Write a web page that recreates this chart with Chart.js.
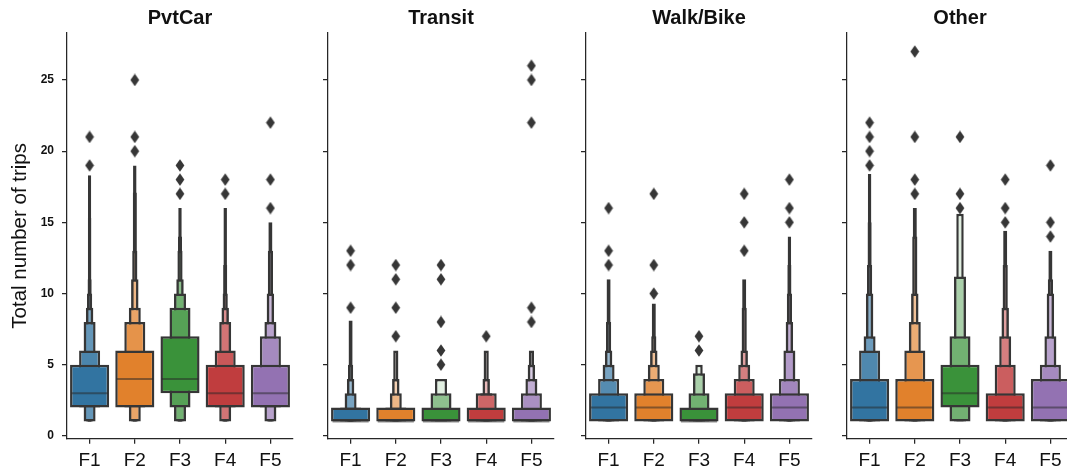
<!DOCTYPE html>
<html>
<head>
<meta charset="utf-8">
<script src="https://cdn.jsdelivr.net/npm/chart.js@4.4.1/dist/chart.umd.min.js"></script>
<style>
  html, body { margin: 0; padding: 0; background: #fff; overflow: hidden; }
  #wrap { position: relative; width: 1067px; height: 472px; overflow: hidden; }
  canvas { position: absolute; top: 0; }
</style>
</head>
<body>
<div id="wrap"></div>
<script>
// Groups on the x axis and facet titles
const categories = ['F1', 'F2', 'F3', 'F4', 'F5'];
const panelTitles = ['PvtCar', 'Transit', 'Walk/Bike', 'Other'];
const yTicks = [0, 5, 10, 15, 20, 25];
const groupColors = ['#3274a1', '#e1812c', '#3a923a', '#c03d3e', '#9372b2'];

// Letter-value boxes per group, widest (IQR) first, each [low, high]
const pvtCarBoxes = [
    [[2, 5], [2, 6], [1, 8], [1, 9], [1, 10], [1, 11], [1, 15.3], [1, 18.3]],
    [[2, 6], [2, 8], [1, 9], [1, 11], [1, 13], [1, 17.1], [1, 19]],
    [[3, 7], [2, 9], [1, 10], [1, 11], [1, 13], [1, 14], [1, 16]],
    [[2, 5], [2, 6], [1, 8], [1, 9], [1, 10], [1, 12], [1, 16]],
    [[2, 5], [2, 7], [1, 8], [1, 10], [1, 13], [1, 15]]
];
const pvtCarMedians = [3, 4, 4, 3, 3];
const pvtCarOutliers = [[19, 21], [20, 21, 25], [17, 18, 19], [17, 18], [16, 18, 22]];

const transitBoxes = [
    [[1, 2], [1, 2], [1, 3], [1, 4], [1, 5], [1, 8.1]],
    [[1, 2], [1, 2], [1, 3], [1, 4], [1, 6]],
    [[1, 2], [1, 3], [1, 4]],
    [[1, 2], [1, 3], [1, 3], [1, 4], [1, 6]],
    [[1, 2], [1, 3], [1, 4], [1, 5], [1, 6]]
];
const transitMedians = [1, 1, 1, 1, 1];
const transitOutliers = [[9, 12, 13], [7, 9, 11, 12], [5, 6, 8, 11, 12], [7], [8, 9, 22, 25, 26]];

const walkBikeBoxes = [
    [[1, 3], [1, 4], [1, 5], [1, 6], [1, 8], [1, 11]],
    [[1, 3], [1, 4], [1, 5], [1, 6], [1, 7], [1, 9.3]],
    [[1, 2], [1, 3], [1, 4.4], [1, 5]],
    [[1, 3], [1, 4], [1, 5], [1, 6], [1, 9], [1, 11]],
    [[1, 3], [1, 4], [1, 6], [1, 8], [1, 10], [1, 12], [1, 14]]
];
const walkBikeMedians = [2, 2, 1, 2, 2];
const walkBikeOutliers = [[12, 13, 16], [10, 12, 17], [6, 7], [13, 15, 17], [15, 16, 18]];

const otherBoxes = [
    [[1, 4], [1, 6], [1, 7], [1, 10], [1, 12], [1, 15], [1, 18.4]],
    [[1, 4], [1, 6], [1, 8], [1, 10], [1, 14], [1, 16]],
    [[2, 5], [1, 7], [1, 11.2], [1, 15.6]],
    [[1, 3], [1, 5], [1, 7], [1, 9], [1, 12], [1, 14.4]],
    [[1, 4], [1, 5], [1, 7], [1, 10], [1, 11], [1, 13]]
];
const otherMedians = [2, 2, 3, 2, 2];
const otherOutliers = [[19, 20, 21, 22], [17, 18, 21, 27], [16, 17, 21], [15, 16, 18], [14, 15, 19]];

const FONT = "'Liberation Sans', Arial, sans-serif";
const TEXT = '#111111';
const EDGE = '#363636';

// lighten a hex colour towards white
function mix(hex, t) {
    const n = parseInt(hex.slice(1), 16);
    const r = n >> 16, g = (n >> 8) & 255, b = n & 255;
    const f = c => Math.round(c + (255 - c) * t);
    return `rgb(${f(r)}, ${f(g)}, ${f(b)})`;
}

// thin diamond marker for outliers
function diamond() {
    const c = document.createElement('canvas');
    c.width = 10;
    c.height = 13;
    const g = c.getContext('2d');
    g.fillStyle = EDGE;
    g.beginPath();
    g.moveTo(5, 0.3);
    g.lineTo(9.4, 6.5);
    g.lineTo(5, 12.7);
    g.lineTo(0.6, 6.5);
    g.closePath();
    g.fill();
    return c;
}
const marker = diamond();

// median line across the widest box
const medianLines = {
    id: 'medianLines',
    afterDatasetsDraw(chart, args, opts) {
        const { ctx, scales: { x, y } } = chart;
        const half = (x.getPixelForValue(1) - x.getPixelForValue(0)) * 0.4;
        ctx.save();
        ctx.strokeStyle = 'rgba(38, 38, 38, 0.5)';
        ctx.lineWidth = 2;
        opts.values.forEach((m, i) => {
            const px = x.getPixelForValue(i);
            const py = y.getPixelForValue(m);
            ctx.beginPath();
            ctx.moveTo(px - half, py);
            ctx.lineTo(px + half, py);
            ctx.stroke();
        });
        ctx.restore();
    }
};

function makePanel(idx, boxes, medians, outliers) {
    const first = idx === 0;
    const plotLeft = [67, 327.7, 586, 846.7][idx];
    const axisW = first ? 67 : 30;
    const canvas = document.createElement('canvas');
    canvas.width = axisW + 226 + 7;
    canvas.height = 472;
    canvas.style.left = (plotLeft - axisW) + 'px';
    document.getElementById('wrap').appendChild(canvas);

    const nLevels = Math.max(...boxes.map(b => b.length));
    const datasets = [];
    for (let j = 0; j < nLevels; j++) {
        datasets.push({
            type: 'bar',
            data: boxes.map(b => b[j] || null),
            backgroundColor: boxes.map((b, g) => mix(groupColors[g], b.length > 1 ? 0.85 * j / (b.length - 1) : 0)),
            borderColor: EDGE,
            borderWidth: 2.5,
            borderSkipped: false,
            grouped: false,
            categoryPercentage: 1,
            barPercentage: 0.8 * Math.pow(0.5, j) + 0.065,
            order: j + 1
        });
    }
    datasets.push({
        type: 'line',
        data: outliers.flatMap((vals, g) => vals.map(v => ({ x: categories[g], y: v }))),
        showLine: false,
        pointStyle: marker,
        pointRadius: 5,
        order: 0
    });

    new Chart(canvas, {
        type: 'bar',
        data: { labels: categories, datasets: datasets },
        plugins: [medianLines],
        options: {
            responsive: false,
            animation: false,
            layout: { padding: { right: 7, top: 0, bottom: 0, left: 0 } },
            plugins: {
                legend: { display: false },
                tooltip: { enabled: false },
                title: {
                    display: true,
                    text: panelTitles[idx],
                    fullSize: false,
                    color: TEXT,
                    font: { family: FONT, size: 20, weight: 'bold', lineHeight: 1.2 },
                    padding: { top: 6, bottom: 3 }
                },
                medianLines: { values: medians }
            },
            scales: {
                x: {
                    offset: true,
                    grid: { display: true, offset: false, drawOnChartArea: false, tickLength: 5, color: '#262626', lineWidth: 1.25 },
                    border: { display: true, color: '#262626', width: 1.25 },
                    ticks: { color: TEXT, padding: 6, font: { family: FONT, size: 19 } },
                    afterFit: s => { s.height = 33.3; }
                },
                y: {
                    min: -0.2,
                    max: 28.3,
                    afterBuildTicks: s => { s.ticks = yTicks.map(v => ({ value: v })); },
                    grid: { display: true, drawOnChartArea: false, tickLength: 5, color: '#262626', lineWidth: 1.25 },
                    border: { display: true, color: '#262626', width: 1.25 },
                    ticks: { display: first, color: TEXT, padding: 8, font: { family: FONT, size: 12, weight: 'bold' } },
                    title: {
                        display: first,
                        text: 'Total number of trips',
                        color: TEXT,
                        font: { family: FONT, size: 20.5 },
                        padding: { top: 8, bottom: 0 }
                    },
                    afterFit: s => { s.width = axisW; }
                }
            }
        }
    });
}

makePanel(0, pvtCarBoxes, pvtCarMedians, pvtCarOutliers);
makePanel(1, transitBoxes, transitMedians, transitOutliers);
makePanel(2, walkBikeBoxes, walkBikeMedians, walkBikeOutliers);
makePanel(3, otherBoxes, otherMedians, otherOutliers);
</script>
</body>
</html>
